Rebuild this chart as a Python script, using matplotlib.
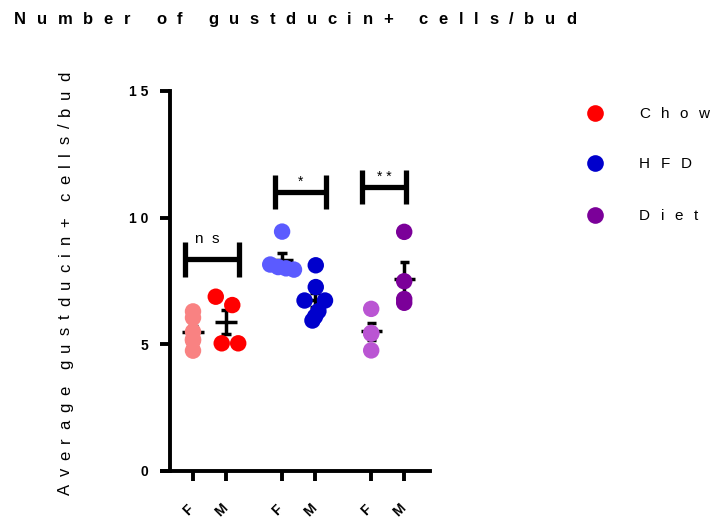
import numpy as np
import matplotlib.pyplot as plt
from matplotlib.transforms import ScaledTranslation

plt.rcParams['font.family'] = ['Liberation Sans', 'DejaVu Sans']

W, H = 711, 525

# gustducin+ cells per bud, one list per diet / sex
chow_f = [6.3, 6.05, 5.5, 5.2, 5.15, 4.75]
chow_m = [6.88, 6.55, 5.04, 5.04]
hfd_f = [9.45, 8.15, 8.05, 8.0, 7.95]
hfd_m = [8.12, 7.26, 6.73, 6.73, 6.31, 6.1, 5.94]
diet_f = [6.4, 5.45, 5.42, 4.76]
diet_m = [9.44, 7.49, 6.79, 6.64]

# sideways spread of the dots so they do not sit on top of each other
chow_f_dx = [0, 0, 0, 0, 0, 0]
chow_m_dx = [-0.31, 0.19, -0.13, 0.37]
hfd_f_dx = [0, -0.36, -0.12, 0.12, 0.36]
hfd_m_dx = [0.02, 0.02, -0.32, 0.30, 0.10, 0.0, -0.08]
diet_f_dx = [0, 0, 0, 0]
diet_m_dx = [0, 0, 0, 0]

series = [chow_f, chow_m, hfd_f, hfd_m, diet_f, diet_m]
spread = [chow_f_dx, chow_m_dx, hfd_f_dx, hfd_m_dx, diet_f_dx, diet_m_dx]
sex_labels = ['F', 'M', 'F', 'M', 'F', 'M']
positions = [1.0, 2.0, 3.7, 4.7, 6.4, 7.4]
colors = ['#F98282', '#FF0000', '#5B5BFF', '#0000CC', '#BA55D3', '#7B0099']

legend_names = ['Chow', 'HFD', 'Diet']
legend_colors = ['#FF0000', '#0000CC', '#7B0099']

# significance brackets: left, right, height, label
brackets = [
    (0.76, 2.39, 8.35, 'n s'),
    (3.48, 5.03, 11.02, '*'),
    (6.12, 7.45, 11.2, '* *'),
]


def spaced_text(fig, s, x, y, track, gap, rotation=0, **kw):
    """Write s glyph by glyph starting at pixel (x, y) from the top left."""
    r = fig.canvas.get_renderer()
    a = np.deg2rad(rotation)
    d = 0.0
    for ch in s:
        if ch == ' ':
            d += gap
            continue
        px = x + d * np.cos(a)
        py = y - d * np.sin(a)
        fig.text(px / W, 1 - py / H, ch, rotation=rotation, rotation_mode='anchor',
                 ha='left', va='baseline', **kw)
        probe = fig.text(0, 0, ch, **kw)
        w = probe.get_window_extent(r).width
        probe.remove()
        d += w + track


fig = plt.figure(figsize=(W / 100, H / 100), dpi=100)
ax = fig.add_axes([162 / W, (H - 471) / H, (430 - 162) / W, (471 - 91) / H])
ax.set_xlim(1 - 31 / 33, 1 + 237 / 33)
ax.set_ylim(0, 15)

for pos, vals, dx, c in zip(positions, series, spread, colors):
    vals = np.array(vals)
    m = vals.mean()
    sem = vals.std(ddof=1) / np.sqrt(len(vals))
    ax.hlines(m, pos - 0.32, pos + 0.32, color='black', lw=2.5, zorder=2)
    ax.vlines(pos, m - sem, m + sem, color='black', lw=2.5, zorder=2)
    ax.hlines([m - sem, m + sem], pos - 0.14, pos + 0.14, color='black', lw=2.5, zorder=2)
    ax.scatter(pos + np.array(dx), vals, s=140, color=c, edgecolors='none', zorder=3)

for x0, x1, yb, label in brackets:
    ax.plot([x0, x1], [yb, yb], color='black', lw=3.8, solid_capstyle='butt')
    ax.vlines([x0, x1], yb - 0.68, yb + 0.68, color='black', lw=3.8)
    if label == 'n s':
        ax.text((x0 + x1) / 2 - 0.15, yb + 0.55, 'n  s', ha='center', va='bottom', fontsize=11)
    else:
        ax.text((x0 + x1) / 2, yb + 0.12, label, ha='center', va='bottom', fontsize=10)

for side in ['top', 'right']:
    ax.spines[side].set_visible(False)
ax.spines['left'].set_position(('data', 1 - 23 / 33))
ax.spines['left'].set_linewidth(2.8)
ax.spines['bottom'].set_linewidth(2.8)

ax.set_yticks([0, 5, 10, 15])
ax.set_yticklabels(['0', '5', '1 0', '1 5'], fontsize=10, fontweight='bold')
ax.set_xticks(positions)
ax.set_xticklabels(sex_labels, fontsize=10, fontweight='bold', rotation=45,
                   ha='center', va='center')
ax.tick_params(axis='y', length=7.5, width=2.8, pad=8)
ax.tick_params(axis='x', length=7.5, width=2.8, pad=21)
nudge = ScaledTranslation(-5 / 100, 0, fig.dpi_scale_trans)
for lbl in ax.get_xticklabels():
    lbl.set_transform(lbl.get_transform() + nudge)

spaced_text(fig, 'Number of gustducin+ cells/bud', 14, 24, 10.7, 15,
            fontsize=12, fontweight='bold')
spaced_text(fig, 'Average gustducin+ cells/bud', 70, 495, 7.8, 9, rotation=90,
            fontsize=12)

for i, (name, c) in enumerate(zip(legend_names, legend_colors)):
    yc = [113, 163, 215][i]
    fig.add_artist(plt.Line2D([595 / W], [1 - yc / H], marker='o', markersize=12,
                              color=c, markeredgecolor='none', linestyle='none'))
    spaced_text(fig, name, 639, yc + 5.5, 10.5, 10, fontsize=11)

fig.savefig('out.png', dpi=100)
